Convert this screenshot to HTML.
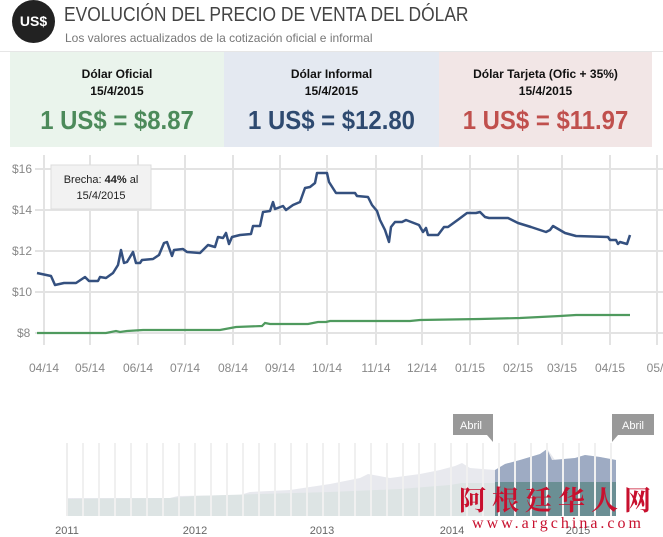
<!DOCTYPE html>
<html><head><meta charset="utf-8"><style>
body{margin:0;width:663px;height:537px;background:#fff;font-family:"Liberation Sans",sans-serif;overflow:hidden;position:relative}
.card{position:absolute;top:52px;height:95px;text-align:center}
.card .t{font-size:12px;font-weight:bold;color:#111;margin-top:14px;line-height:17px}
.card .v{font-size:26px;font-weight:bold;margin-top:5px;transform:scaleX(0.92)}
</style></head><body>
<div style="position:absolute;left:12px;top:0;width:43px;height:43px;border-radius:50%;background:#222;color:#fff;font-weight:bold;font-size:14px;line-height:43px;text-align:center">US$</div>
<div style="position:absolute;left:64px;top:4px;font-size:20px;color:#444;transform:scaleX(0.87);transform-origin:0 0;white-space:nowrap">EVOLUCIÓN DEL PRECIO DE VENTA DEL DÓLAR</div>
<div style="position:absolute;left:65px;top:31px;font-size:12px;color:#777">Los valores actualizados de la cotización oficial e informal</div>
<div style="position:absolute;left:0;width:663px;height:1px;background:#e6e6e6;top:51px"></div>
<div class="card" style="left:10px;width:214px;background:#eaf4ec"><div class="t">Dólar Oficial<br>15/4/2015</div><div class="v" style="color:#4c8a5a">1 US$ = $8.87</div></div>
<div class="card" style="left:224px;width:215px;background:#e4e9f1"><div class="t">Dólar Informal<br>15/4/2015</div><div class="v" style="color:#2e4a70">1 US$ = $12.80</div></div>
<div class="card" style="left:439px;width:213px;background:#f2e6e6"><div class="t">Dólar Tarjeta (Ofic + 35%)<br>15/4/2015</div><div class="v" style="color:#c0504d">1 US$ = $11.97</div></div>
<svg style="position:absolute;left:0;top:0" width="663" height="537" font-family="Liberation Sans, sans-serif">
<g stroke="#e3e3e3" stroke-width="2">
<line x1="35" x2="663" y1="169" y2="169"/><line x1="35" x2="663" y1="210" y2="210"/><line x1="35" x2="663" y1="251" y2="251"/><line x1="35" x2="663" y1="292" y2="292"/><line x1="35" x2="663" y1="333" y2="333"/>
<line x1="44" x2="44" y1="155" y2="345"/><line x1="90" x2="90" y1="155" y2="345"/><line x1="138" x2="138" y1="155" y2="345"/><line x1="185" x2="185" y1="155" y2="345"/><line x1="233" x2="233" y1="155" y2="345"/><line x1="280" x2="280" y1="155" y2="345"/><line x1="327" x2="327" y1="155" y2="345"/><line x1="376" x2="376" y1="155" y2="345"/><line x1="422" x2="422" y1="155" y2="345"/><line x1="470" x2="470" y1="155" y2="345"/><line x1="518" x2="518" y1="155" y2="345"/><line x1="562" x2="562" y1="155" y2="345"/><line x1="610" x2="610" y1="155" y2="345"/><line x1="657" x2="657" y1="155" y2="345"/>
</g>
<g fill="#888" font-size="12">
<text x="12" y="173">$16</text><text x="12" y="214">$14</text><text x="12" y="255">$12</text><text x="12" y="296">$10</text><text x="17" y="337">$8</text>
</g>
<g fill="#888" font-size="12" text-anchor="middle">
<text x="44" y="372">04/14</text><text x="90" y="372">05/14</text><text x="138" y="372">06/14</text><text x="185" y="372">07/14</text><text x="233" y="372">08/14</text><text x="280" y="372">09/14</text><text x="327" y="372">10/14</text><text x="376" y="372">11/14</text><text x="422" y="372">12/14</text><text x="470" y="372">01/15</text><text x="518" y="372">02/15</text><text x="562" y="372">03/15</text><text x="610" y="372">04/15</text><text x="655" y="372">05/</text>
</g>
<polyline fill="none" stroke="#4f9a5e" stroke-width="2.2" points="37,333 106,333 116,331 120,332 127,331 143,330 220,330 236,327 262,326 265,323 270,324 308,324 318,322 326,322 330,321 410,321 420,320 480,319 520,318 560,316 576,315 630,315"/>
<polyline fill="none" stroke="#34507f" stroke-width="2.5" stroke-linejoin="round" points="37,273 51,276 55,285 64,283 76,283 85,277 89,281 98,281 100,277 106,278 113,273 118,265 121,250 124,263 127,262 133,252 136,263 140,263 142,260 153,259 159,255 164,243 167,242 172,256 174,250 183,249 187,252 200,253 208,245 215,247 218,237 223,238 226,233 229,244 232,237 240,235 251,234 253,226 260,226 263,212 270,211 273,202 275,209 283,206 286,210 293,205 300,202 305,188 310,187 315,183 317,173 327,173 329,182 336,193 340,193 348,193 355,193 357,196 368,197 372,205 377,211 380,220 385,230 389,242 391,227 395,222 402,222 406,220 419,225 423,232 426,228 428,235 438,235 444,227 448,227 459,219 467,213 476,213 480,212 485,217 489,218 508,218 518,223 531,227 546,232 550,230 553,226 565,233 576,236 608,237 610,240 616,240 618,244 620,242 627,244 630,235"/>
<rect x="51" y="165" width="100" height="44" fill="#f2f2f2" stroke="#ddd"/>
<text x="101" y="183" font-size="11" text-anchor="middle" fill="#222">Brecha: <tspan font-weight="bold">44%</tspan> al</text>
<text x="101" y="199" font-size="11" text-anchor="middle" fill="#222">15/4/2015</text>
<path d="M67,498 L170,498 L178,496 L240,495 L250,492 L290,490 L330,484 L360,478 L368,474 L390,478 L420,474 L440,470 L455,466 L462,463 L470,468 L495,470 L505,464 L520,460 L540,454 L548,450 L555,460 L575,458 L585,455 L600,457 L616,460 L616,516 L67,516Z" fill="#e8e9ee"/>
<path d="M67,499 L170,498 L195,496 L260,494 L330,492 L400,489 L450,485 L462,483 L495,483 L616,478 L616,516 L67,516Z" fill="#dde4e4"/>
<path d="M495,470 L505,464 L520,460 L540,454 L547,449 L552,460 L575,458 L585,455 L600,457 L616,460 L616,482 L495,482Z" fill="#9eabc3"/>
<rect x="495" y="482" width="121" height="34" fill="#6b8f94"/>
<g stroke="#f0f0f0" stroke-width="2">
<line x1="83" x2="83" y1="443" y2="516"/><line x1="99" x2="99" y1="443" y2="516"/><line x1="115" x2="115" y1="443" y2="516"/><line x1="131" x2="131" y1="443" y2="516"/><line x1="147" x2="147" y1="443" y2="516"/><line x1="163" x2="163" y1="443" y2="516"/><line x1="179" x2="179" y1="443" y2="516"/><line x1="195" x2="195" y1="443" y2="516"/><line x1="211" x2="211" y1="443" y2="516"/><line x1="227" x2="227" y1="443" y2="516"/><line x1="243" x2="243" y1="443" y2="516"/><line x1="259" x2="259" y1="443" y2="516"/><line x1="275" x2="275" y1="443" y2="516"/><line x1="291" x2="291" y1="443" y2="516"/><line x1="307" x2="307" y1="443" y2="516"/><line x1="323" x2="323" y1="443" y2="516"/><line x1="339" x2="339" y1="443" y2="516"/><line x1="355" x2="355" y1="443" y2="516"/><line x1="371" x2="371" y1="443" y2="516"/><line x1="387" x2="387" y1="443" y2="516"/><line x1="403" x2="403" y1="443" y2="516"/><line x1="419" x2="419" y1="443" y2="516"/><line x1="435" x2="435" y1="443" y2="516"/><line x1="451" x2="451" y1="443" y2="516"/><line x1="467" x2="467" y1="443" y2="516"/><line x1="483" x2="483" y1="443" y2="516"/><line x1="499" x2="499" y1="443" y2="516"/><line x1="515" x2="515" y1="443" y2="516"/><line x1="531" x2="531" y1="443" y2="516"/><line x1="547" x2="547" y1="443" y2="516"/><line x1="563" x2="563" y1="443" y2="516"/><line x1="579" x2="579" y1="443" y2="516"/><line x1="595" x2="595" y1="443" y2="516"/><line x1="611" x2="611" y1="443" y2="516"/>
</g>
<line x1="67" x2="67" y1="443" y2="516" stroke="#eee" stroke-width="2"/>
<path d="M453,414 H493 V442 L487,435 H453Z" fill="#999"/>
<text x="471" y="429" font-size="11" fill="#fff" text-anchor="middle">Abril</text>
<path d="M612,414 H654 V435 H618 L612,442Z" fill="#999"/>
<text x="633" y="429" font-size="11" fill="#fff" text-anchor="middle">Abril</text>
<g fill="#666" font-size="11" text-anchor="middle">
<text x="67" y="534">2011</text><text x="195" y="534">2012</text><text x="322" y="534">2013</text><text x="452" y="534">2014</text><text x="578" y="534">2015</text>
</g>
<text x="558" y="510" font-size="27" fill="#c8102e" text-anchor="middle" font-family="Noto Serif CJK SC, serif" font-weight="bold" letter-spacing="6">阿根廷华人网</text>
<text x="558" y="528" font-size="16" fill="#c8102e" text-anchor="middle" font-family="Liberation Serif, serif" letter-spacing="3">www.argchina.com</text>
</svg>
</body></html>
